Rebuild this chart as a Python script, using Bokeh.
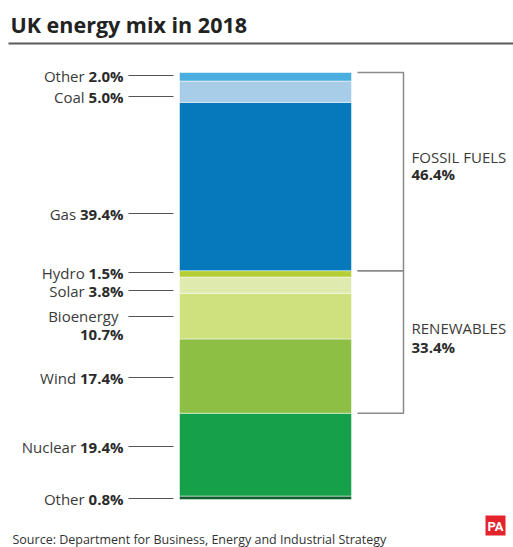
import glob, os, subprocess
import numpy as np
from bokeh.plotting import figure
from bokeh.models import Range1d, ColumnDataSource
from bokeh.core.properties import value
from bokeh.embed import file_html
from bokeh.resources import INLINE

# ---------------- data ----------------
title = "UK energy mix in 2018"
source_note = "Source: Department for Business, Energy and Industrial Strategy"
# stacked from bottom to top
sources = ["Other", "Nuclear", "Wind", "Bioenergy", "Solar", "Hydro", "Gas", "Coal", "Other"]
shares = [0.8, 19.4, 17.4, 10.7, 3.8, 1.5, 39.4, 5.0, 2.0]
colors = ["#0f5c2e", "#17a04a", "#8dbf44", "#cfe07f", "#dfeaae", "#b6cf36",
          "#0579bb", "#a8cde8", "#4aaee0"]
groups = ["FOSSIL FUELS", "RENEWABLES"]
group_members = [[6, 7, 8], [2, 3, 4, 5]]

# ---------------- layout ----------------
W, H = 513, 547
FONT = "Open Sans"
BAR_L, BAR_R = 179, 351
PX_TOP, PX_BOT = 72, 499          # page rows of bar top / bottom
K = (PX_BOT - PX_TOP) / 100.0      # page px per percentage point


def py(px):
    """page pixel row -> y units (annotations only)"""
    return (PX_BOT - px) / K


# label anchor rows on the page (layout)
label_rows = [498, 446, 377, 316, 290, 272, 213, 96, 75]
group_label_rows = [(156, 173), (327, 346)]
LABEL_RIGHT = 123


def font_file(spec):
    try:
        out = subprocess.run(["fc-match", "-f", "%{file}", spec],
                             capture_output=True, text=True, timeout=5).stdout.strip()
        if out and os.path.exists(out):
            return out
    except Exception:
        pass
    return None


def measurer(bold):
    try:
        from PIL import ImageFont
        path = font_file(FONT + (":bold" if bold else ":regular"))
        if path is None:
            raise RuntimeError

        def m(s, size):
            f = ImageFont.truetype(path, size)
            if bold:
                try:
                    f.set_variation_by_name("Bold")
                except Exception:
                    pass
            return f.getlength(s)
        return m
    except Exception:
        def m(s, size):
            return len(s) * size * (0.6 if bold else 0.55)
        return m


w_reg = measurer(False)
w_bold = measurer(True)

p = figure(width=W, height=H, x_range=Range1d(0, W), y_range=Range1d(py(H), py(0)),
           output_backend="svg", toolbar_location=None, min_border=0,
           x_axis_location=None, y_axis_location=None)
p.grid.visible = False
p.outline_line_color = None
p.background_fill_color = "white"
p.border_fill_color = "white"

# ---- stacked bar ----
vals = np.array(shares)
tops = np.cumsum(vals)
bots = tops - vals
src = ColumnDataSource(dict(bottom=bots, top=tops, color=colors, name=sources))
p.quad(left=BAR_L, right=BAR_R, bottom="bottom", top="top", fill_color="color",
       line_color="white", line_width=0.7, line_alpha=0.7, source=src)

# ---- labels ----
FS = 15
name_x, name_y, name_t = [], [], []
val_x, val_y, val_t = [], [], []
line_y = []
for i, (nm, v) in enumerate(zip(sources, shares)):
    row = label_rows[i]
    vt = f"{v:.1f}%"
    line_y.append(py(row))
    if nm == "Bioenergy":
        name_x.append(LABEL_RIGHT - 5); name_y.append(py(row - 1)); name_t.append(nm)
        val_x.append(LABEL_RIGHT); val_y.append(py(row + 17)); val_t.append(vt)
    else:
        wb = w_bold(vt, FS)
        ws = w_reg(" ", FS)
        name_x.append(LABEL_RIGHT - wb - ws); name_y.append(py(row)); name_t.append(nm)
        val_x.append(LABEL_RIGHT); val_y.append(py(row)); val_t.append(vt)

p.text(x=name_x, y=name_y, text=name_t, text_font=value(FONT), text_font_size=f"{FS}px",
       text_align="right", text_baseline="middle", text_color="#3a3a3a")
p.text(x=val_x, y=val_y, text=val_t, text_font=value(FONT), text_font_size=f"{FS}px",
       text_font_style="bold", text_align="right", text_baseline="middle", text_color="#2a2a2a")
p.segment(x0=128, x1=173, y0=line_y, y1=line_y, line_color="#555555", line_width=1)

# ---- brackets ----
BR_L, BR_R = 357, 403
for gi, (g, mem) in enumerate(zip(groups, group_members)):
    top = max(tops[j] for j in mem)
    bot = min(bots[j] for j in mem)
    total = sum(shares[j] for j in mem)
    p.line(x=[BR_L, BR_R, BR_R, BR_L], y=[top, top, bot, bot],
           line_color="#8a8a8a", line_width=1.5)
    r1, r2 = group_label_rows[gi]
    p.text(x=[411], y=[py(r1)], text=[g], text_font=value(FONT),
           text_font_size=f"{FS}px", text_baseline="middle", text_color="#3a3a3a")
    p.text(x=[411], y=[py(r2)], text=[f"{total:.1f}%"], text_font=value(FONT),
           text_font_size=f"{FS}px", text_font_style="bold", text_baseline="middle",
           text_color="#2a2a2a")

# ---- title ----
tsize = 22
tw = w_bold(title, tsize)
if tw > 0:
    tsize = max(16, min(26, tsize * 236 / tw))
p.text(x=[10], y=[py(24)], text=[title], text_font=value(FONT), text_font_size=f"{tsize:.1f}px",
       text_font_style="bold", text_baseline="middle", text_color="#222222")
p.segment(x0=[8], x1=[W], y0=[py(43)], y1=[py(43)], line_color="#5a5a5a", line_width=2)

# ---- source ----
ssize = 12
sw = w_reg(source_note, ssize)
if sw > 0:
    ssize = max(9, min(13, ssize * 375 / sw))
p.text(x=[12], y=[py(539)], text=[source_note], text_font=value(FONT),
       text_font_size=f"{ssize:.1f}px", text_baseline="middle", text_color="#333333")

# ---- PA logo ----
p.quad(left=[485], right=[505], bottom=[py(535)], top=[py(515)], fill_color="#e3232b",
       line_color=None)
p.text(x=[495], y=[py(525.5)], text=["PA"], text_font=value("Roboto"), text_font_size="13px",
       text_font_style="bold", text_align="center", text_baseline="middle", text_color="white")

open("out.html", "w").write(file_html(p, INLINE))
